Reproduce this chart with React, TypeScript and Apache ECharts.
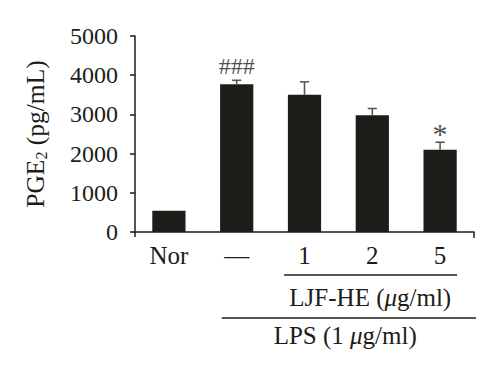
import React, { useEffect, useRef } from "react";
import * as echarts from "echarts";

const categories = ["Nor", "\u2014", "1", "2", "5"];
const means = [540, 3770, 3500, 2980, 2100];
const errors = [0, 100, 330, 170, 190];
const annotations = ["", "###", "", "", "*"];
const yTicks = { min: 0, max: 5000, interval: 1000 };

const FONT = "'Liberation Serif', 'DejaVu Serif', 'Times New Roman', serif";
const INK = "#1c1c19";
const ERR = "#5c5752";

export default function App() {
  const ref = useRef<HTMLDivElement>(null);
  useEffect(() => {
    if (!ref.current) return;
    const chart = echarts.init(ref.current, undefined, { renderer: "svg" });
    const errData = means.map((m, i) => [i, m, errors[i]]);
    const annData = annotations
      .map((a, i) => ({
        value: [i, means[i] + errors[i]],
        name: a,
        label: a === "*" ? { fontSize: 30, distance: -6 } : { fontSize: 24, distance: 2 },
      }))
      .filter((d) => d.name !== "");
    chart.setOption({
      animation: false,
      grid: { left: 135, right: 26, top: 36, bottom: 142 },
      xAxis: {
        type: "category",
        data: categories,
        axisLine: { lineStyle: { color: INK, width: 1.5 } },
        axisTick: { show: false },
        axisLabel: { color: INK, fontFamily: FONT, fontSize: 25, margin: 11 },
      },
      yAxis: {
        type: "value",
        min: yTicks.min,
        max: yTicks.max,
        interval: yTicks.interval,
        splitLine: { show: false },
        axisLine: { show: true, lineStyle: { color: INK, width: 1.5 } },
        axisTick: { show: true, length: 5, lineStyle: { color: INK, width: 1.5 } },
        axisLabel: {
          color: INK,
          fontFamily: FONT,
          fontSize: 24,
          margin: 17,
          formatter: (v: number) => String(v),
        },
        name: "{a|PGE}{s|2}{a| (pg/mL)}",
        nameLocation: "middle",
        nameGap: 86,
        nameTextStyle: {
          rich: {
            a: { fontFamily: FONT, fontSize: 25.5, color: INK },
            s: { fontFamily: FONT, fontSize: 16, color: INK, padding: [11, 0, 0, 0] },
          },
        },
      },
      series: [
        {
          type: "bar",
          data: means,
          barWidth: "49%",
          itemStyle: { color: INK },
        },
        {
          type: "custom",
          data: errData,
          renderItem: (params: any, api: any) => {
            const x = api.value(0);
            const y = api.value(1);
            const e = api.value(2);
            if (!e) return null;
            const top = api.coord([x, y + e]);
            const base = api.coord([x, y]);
            const hw = 4.6;
            const style = { stroke: ERR, lineWidth: 1.6 };
            return {
              type: "group",
              children: [
                { type: "line", shape: { x1: top[0], y1: top[1], x2: base[0], y2: base[1] }, style },
                { type: "line", shape: { x1: top[0] - hw, y1: top[1], x2: top[0] + hw, y2: top[1] }, style },
              ],
            };
          },
          z: 3,
        },
        {
          type: "scatter",
          data: annData,
          symbolSize: 0,
          label: {
            show: true,
            position: "top",
            formatter: (p: any) => p.name,
            fontFamily: FONT,
            color: INK,
          },
          z: 4,
        },
      ],
    });

    const p0 = chart.convertToPixel({ gridIndex: 0 }, [0, 0]) as number[];
    const p1 = chart.convertToPixel({ gridIndex: 0 }, [1, 0]) as number[];
    const p2 = chart.convertToPixel({ gridIndex: 0 }, [2, 0]) as number[];
    const p4 = chart.convertToPixel({ gridIndex: 0 }, [4, 0]) as number[];
    const band = p1[0] - p0[0];
    const axisY = p0[1];
    const axisLeft = p0[0] - band / 2;
    const axisRight = p4[0] + band / 2;
    const lineStyle = { stroke: INK, lineWidth: 1.5 };
    const textEl = (t: string, x: number, y: number) => ({
      type: "text",
      x,
      y,
      style: {
        text: t,
        align: "center",
        verticalAlign: "middle",
        fill: INK,
        rich: {
          a: { fontFamily: FONT, fontSize: 25, color: INK },
          i: { fontFamily: FONT, fontSize: 25, fontStyle: "italic", color: INK },
        },
      },
    });
    chart.setOption({
      graphic: [
        { type: "line", shape: { x1: axisLeft, y1: axisY, x2: axisLeft, y2: axisY + 5 }, style: lineStyle },
        { type: "line", shape: { x1: axisRight, y1: axisY, x2: axisRight, y2: axisY + 6 }, style: lineStyle },
        {
          type: "line",
          shape: { x1: p2[0] - band * 0.3, y1: axisY + 43, x2: p4[0] + band * 0.25, y2: axisY + 43 },
          style: lineStyle,
        },
        textEl("{a|LJF-HE (}{i|\u03bc}{a|g/ml)}", (p2[0] + p4[0]) / 2 - band * 0.03, axisY + 65),
        {
          type: "line",
          shape: { x1: p1[0] - band * 0.22, y1: axisY + 86, x2: p4[0] + band * 0.53, y2: axisY + 86 },
          style: lineStyle,
        },
        textEl("{a|LPS (1 }{i|\u03bc}{a|g/ml)}", (p1[0] + p4[0]) / 2 + band * 0.1, axisY + 103),
      ],
    });
    return () => chart.dispose();
  }, []);
  return (
    <div
      ref={ref}
      style={{ position: "fixed", left: 0, top: 0, width: 500, height: 374, background: "#fff" }}
    />
  );
}
